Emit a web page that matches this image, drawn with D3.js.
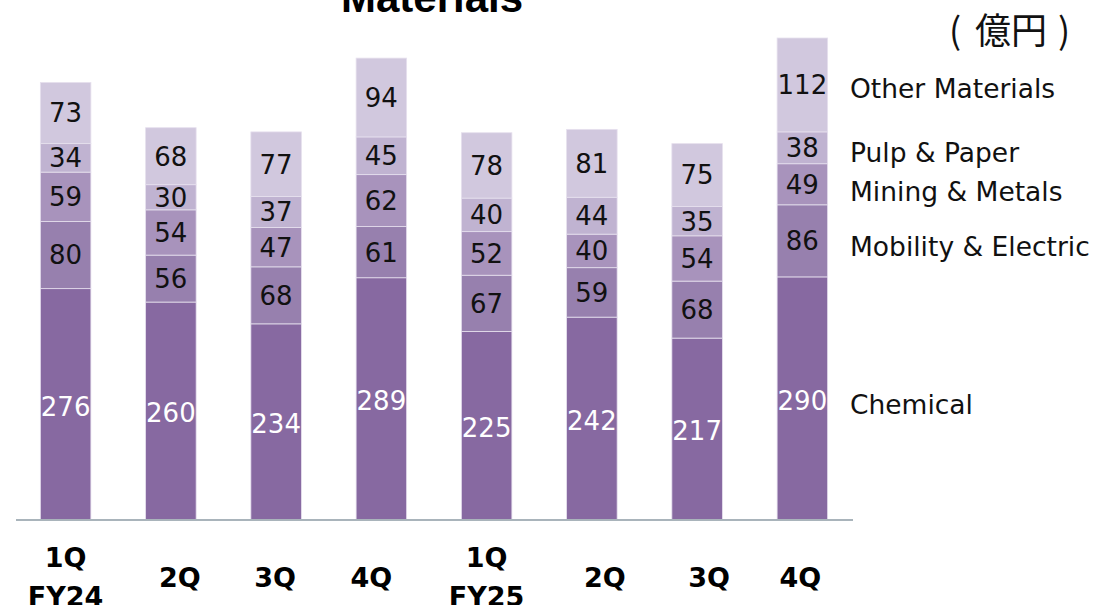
<!DOCTYPE html>
<html><head><meta charset="utf-8">
<script src="https://cdn.jsdelivr.net/npm/d3@7"></script>
<style>body{margin:0;background:#fff}svg{display:block}</style>
</head><body>
<svg id="c" width="1102" height="605"></svg>
<script>
const categories = ["1Q FY24","2Q","3Q","4Q","1Q FY25","2Q","3Q","4Q"];
const seriesNames = ["Chemical","Mobility & Electric","Mining & Metals","Pulp & Paper","Other Materials"];
const chemical = [276,260,234,289,225,242,217,290];
const mobility = [80,56,68,61,67,59,68,86];
const mining = [59,54,47,62,52,40,54,49];
const pulp = [34,30,37,45,40,44,35,38];
const other = [73,68,77,94,78,81,75,112];
const colors = ["#8769A1","#9780AE","#A893BC","#C0B3D1","#D1C8DE"];
const labelColors = ["#fff","#111","#111","#111","#111"];
// layout-only constants
const legendY = [404,246,191,152,88];
const tickDx = [0,9,-1,-10,0,13,12,-2];

const svg = d3.select("#c");
const font = "'DejaVu Sans', Verdana, sans-serif";
const series = [chemical, mobility, mining, pulp, other];
const rows = categories.map((c,i)=>{const o={idx:i}; seriesNames.forEach((s,k)=>o[s]=series[k][i]); return o;});
const stacked = d3.stack().keys(seriesNames)(rows);

const x = d3.scaleBand().domain(d3.range(categories.length)).range([13,855]).paddingInner(0.52).paddingOuter(0.26);
const y = d3.scaleLinear().domain([0,575]).range([520,38]);

const g = svg.append("g");
stacked.forEach((layer,k)=>{
  g.selectAll(null).data(layer).enter().append("rect")
    .attr("x",d=>x(d.data.idx)).attr("width",x.bandwidth())
    .attr("y",d=>y(d[1])).attr("height",d=>y(d[0])-y(d[1]))
    .attr("fill",colors[k]).attr("stroke","#e6e0ee").attr("stroke-width",0.8);
});
stacked.forEach((layer,k)=>{
  g.selectAll(null).data(layer).enter().append("text")
    .attr("x",d=>x(d.data.idx)+x.bandwidth()/2)
    .attr("y",d=>(y(d[0])+y(d[1]))/2 + (k===0?2:0))
    .attr("dy","0.36em").attr("text-anchor","middle")
    .attr("font-family",font).attr("font-size",26)
    .attr("fill",labelColors[k])
    .text(d=>d[1]-d[0]);
});

// baseline axis
const xAxis = d3.axisBottom(x).tickSize(0).tickFormat("");
const ax = svg.append("g").attr("transform","translate(0,520)").call(xAxis);
ax.select(".domain").attr("stroke","#a9b4bb").attr("stroke-width",2).attr("d","M16,0H853");

// category labels
categories.forEach((c,i)=>{
  const parts = c.split(" ");
  const t = svg.append("text").attr("text-anchor","middle")
    .attr("font-family",font).attr("font-weight","bold").attr("font-size",27).attr("fill","#000");
  const cx = x(i)+x.bandwidth()/2 + tickDx[i];
  if(parts.length===2){
    t.append("tspan").attr("x",cx).attr("y",567).text(parts[0]);
    t.append("tspan").attr("x",cx).attr("y",606).text(parts[1]);
  } else {
    t.append("tspan").attr("x",cx).attr("y",587).text(parts[0]);
  }
});

// legend labels
seriesNames.forEach((s,k)=>{
  svg.append("text").attr("x",850).attr("y",legendY[k]).attr("dy","0.36em")
    .attr("font-family",font).attr("font-size",26.5).attr("fill","#111").text(s);
});

// title
svg.append("text").attr("x",432).attr("y",12).attr("text-anchor","middle")
  .attr("font-family","'Liberation Sans', Arial, sans-serif").attr("font-weight","bold")
  .attr("font-size",42).attr("fill","#000").text("Materials");

// unit
const u = svg.append("text").attr("y",44)
  .attr("font-family","'Noto Sans CJK JP', sans-serif").attr("font-size",36).attr("fill","#111");
u.append("tspan").attr("x",949).text("(");
u.append("tspan").attr("x",975).text("億円");
u.append("tspan").attr("x",1058).text(")");
</script>
</body></html>
